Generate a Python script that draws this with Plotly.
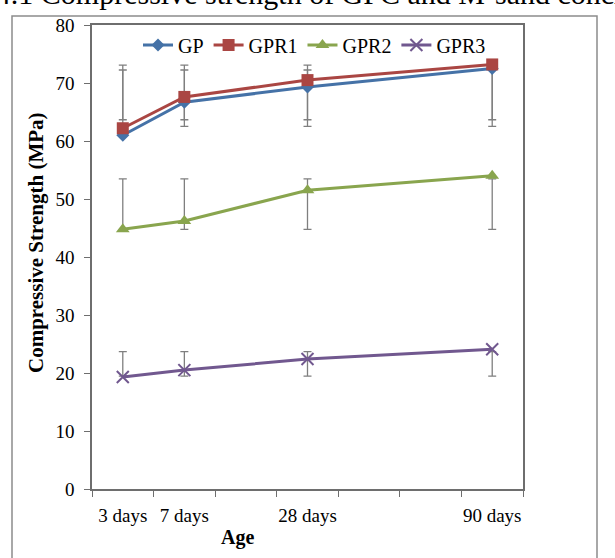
import numpy as np
import plotly.graph_objects as go

# ---- data ----
axis_slots = ["3 days", "7 days", " ", "28 days", "  ", "   ", "90 days"]
ages = ["3 days", "7 days", "28 days", "90 days"]
series_names = ["GP", "GPR1", "GPR2", "GPR3"]
gp = [61.0, 66.7, 69.3, 72.5]
gpr1 = [62.2, 67.6, 70.5, 73.2]
gpr2 = [44.8, 46.2, 51.5, 54.0]
gpr3 = [19.3, 20.5, 22.4, 24.1]
values = [gp, gpr1, gpr2, gpr3]
y_ticks = [0, 10, 20, 30, 40, 50, 60, 70, 80]

colors = ["#4572A7", "#AA4643", "#89A54E", "#71588F"]
symbols = ["diamond", "square", "triangle-up", "x-thin-open"]
msizes = [10, 12, 12, 12]

SERIF = "Liberation Serif"
W, H = 615, 558
L, R, T, B = 92, 92, 25, 69
pw, ph = W - L - R, H - T - B

def px2x(px):
    return (px - L) / pw

def px2y(py):
    return (H - B - py) / ph

fig = go.Figure()

# Excel-style standard deviation error bars (centred on series mean)
for vals in values:
    m = float(np.mean(vals))
    sd = float(np.std(vals, ddof=1))
    fig.add_trace(go.Scatter(
        x=ages, y=[m] * len(vals), mode="markers",
        marker=dict(size=1, opacity=0),
        error_y=dict(type="constant", value=sd, color="#7f7f7f",
                     thickness=1.3, width=4),
        showlegend=False, hoverinfo="skip"))

for name, vals, c, s, ms in zip(series_names, values, colors, symbols, msizes):
    mk = dict(symbol=s, size=ms, color=c)
    if s.startswith("x"):
        mk["line"] = dict(color=c, width=2)
    fig.add_trace(go.Scatter(
        x=ages, y=vals, name=name, mode="lines+markers",
        line=dict(color=c, width=3), marker=mk))

fig.update_layout(
    width=W, height=H,
    margin=dict(l=L, r=R, t=T, b=B),
    paper_bgcolor="white", plot_bgcolor="white",
    font=dict(family=SERIF, size=19, color="black"),
    showlegend=True,
    legend=dict(orientation="h", x=px2x(138), y=px2y(45), xanchor="left",
                yanchor="middle", bgcolor="rgba(0,0,0,0)",
                font=dict(family=SERIF, size=20, color="black"), itemwidth=30,
                tracegroupgap=0),
    xaxis=dict(type="category", categoryorder="array", categoryarray=axis_slots,
               range=[-0.5, 6.5], tickson="boundaries", ticks="outside",
               ticklen=6, tickcolor="#6e6e6e", showgrid=False,
               showline=True, linecolor="#6e6e6e", linewidth=1.5,
               mirror=True, zeroline=False, tickangle=0, automargin=False,
               ticklabelstandoff=8,
               tickfont=dict(family=SERIF, size=19, color="black")),
    yaxis=dict(range=[0, 80], tickvals=y_ticks, ticks="outside", ticklen=6,
               tickcolor="#6e6e6e", showgrid=False, showline=True,
               linecolor="#6e6e6e", linewidth=1.5, mirror=True,
               zeroline=False, automargin=False, ticklabelstandoff=6,
               tickfont=dict(family=SERIF, size=19, color="black")),
)

# outer frame of the figure
fig.add_shape(type="rect", xref="paper", yref="paper",
              x0=px2x(12), x1=px2x(597), y0=px2y(575), y1=px2y(16),
              line=dict(color="#8c8c8c", width=1.5), fillcolor="rgba(0,0,0,0)",
              layer="below")

# axis titles
fig.add_annotation(text="<b>Compressive Strength (MPa)</b>", xref="paper",
                   yref="paper", x=px2x(36), y=px2y(243), textangle=-90,
                   xanchor="center", yanchor="middle",
                   showarrow=False, font=dict(family=SERIF, size=21))
fig.add_annotation(text="<b>Age</b>", xref="paper", yref="paper",
                   x=px2x(237), y=px2y(537), xanchor="center", yanchor="middle",
                   showarrow=False, font=dict(family=SERIF, size=20))

# caption cut off at the top of the image
fig.add_annotation(text="Figure 4.1 Compressive strength of GPC and M-sand concrete",
                   xref="paper", yref="paper", x=px2x(-92), y=px2y(-6),
                   xanchor="left", yanchor="middle", showarrow=False,
                   font=dict(family=SERIF, size=30))

fig.write_html("out.html")
